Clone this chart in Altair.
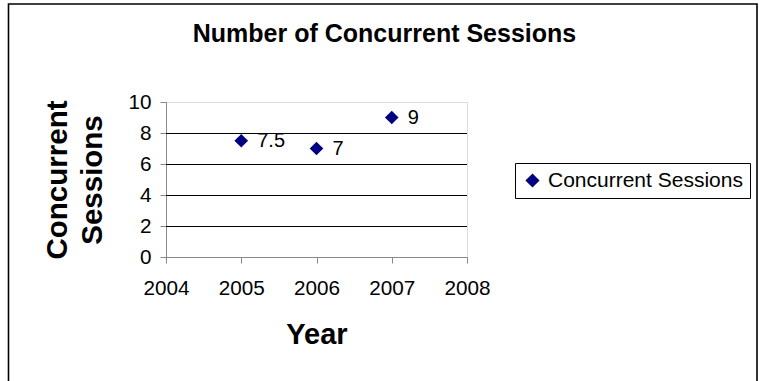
import altair as alt
import pandas as pd

# Series data
years = [2005, 2006, 2007]
sessions = [7.5, 7, 9]
series_name = ["Concurrent Sessions", "Concurrent Sessions", "Concurrent Sessions"]

# Axis ticks and interior gridlines
year_ticks = [2004, 2005, 2006, 2007, 2008]
session_ticks = [0, 2, 4, 6, 8, 10]
grid_levels = [2, 4, 6, 8]

FONT = "Liberation Sans"
NAVY = "#000080"
W, H = 301, 155
PAD = {"left": 166, "top": 102, "right": 292, "bottom": 124}

df = pd.DataFrame({"Year": years, "Sessions": sessions, "Series": series_name})
grid = pd.DataFrame({"level": grid_levels})
frame_df = pd.DataFrame({"k": [0]})

x_scale = alt.Scale(domain=[2004, 2008], nice=False, zero=False)
y_scale = alt.Scale(domain=[0, 10], nice=False)

x_axis = alt.Axis(
    values=year_ticks, format="d", title="Year",
    titleFontSize=29, titleFontWeight="bold", titleFont=FONT,
    titleBaseline="alphabetic", titleY=86.7, titleAlign="center",
    labelFontSize=20.7, labelFont=FONT, labelPadding=15, labelFlush=False,
    labelOverlap=False, tickSize=6, grid=False,
)
y_axis = alt.Axis(
    values=session_ticks, title=["Concurrent", "Sessions"],
    titleFontSize=29.5, titleFontWeight="bold", titleFont=FONT,
    titleAngle=270, titleBaseline="alphabetic", titleAlign="center",
    titleX=-99.3, titleY=77.5, titleLineHeight=35,
    labelFontSize=20.7, labelFont=FONT, labelPadding=9, labelFlush=False,
    labelOverlap=False, tickSize=6, grid=False,
)

x_enc = alt.X("Year:Q", scale=x_scale, axis=x_axis)
y_enc = alt.Y("Sessions:Q", scale=y_scale, axis=y_axis)

# Outer chart border
frame = alt.Chart(frame_df).mark_rect(
    fill="white", fillOpacity=0, stroke="black", strokeWidth=1.6
).encode(
    x=alt.value(-157.5), x2=alt.value(591), y=alt.value(-98), y2=alt.value(320)
)

# Horizontal gridlines inside the plot area
gridlines = alt.Chart(grid).mark_rule(
    color="black", strokeWidth=1, yOffset=0.5
).encode(y=alt.Y("level:Q", scale=y_scale, axis=y_axis))

points = alt.Chart(df).mark_point(
    shape="diamond", filled=True, size=185, opacity=1
).encode(
    x=x_enc,
    y=y_enc,
    color=alt.Color(
        "Series:N",
        scale=alt.Scale(range=[NAVY]),
        legend=alt.Legend(
            title=None, orient="none", legendX=349, legendY=61,
            symbolType="diamond", symbolSize=200, symbolStrokeWidth=0,
            labelFontSize=21, labelFont=FONT, labelColor="black",
            labelOffset=5, labelLimit=400, padding=7,
            strokeColor="black", fillColor="white",
        ),
    ),
)

labels = alt.Chart(df).mark_text(
    align="left", baseline="middle", dx=16, fontSize=20, font=FONT, color="black"
).encode(x=x_enc, y=y_enc, text=alt.Text("Sessions:Q", format="~g"))

chart = (
    alt.layer(frame, gridlines, points, labels)
    .properties(
        width=W,
        height=H,
        padding=PAD,
        autosize=alt.AutoSizeParams(type="none"),
        title=alt.TitleParams(
            "Number of Concurrent Sessions",
            fontSize=25, fontWeight="bold", font=FONT, color="black",
            anchor="middle", frame="group", dx=68, dy=68.4, offset=0,
            baseline="bottom",
        ),
    )
    .configure_view(stroke="#808080", strokeWidth=2)
    .configure_axis(
        domainColor="black", tickColor="black", labelColor="black",
        titleColor="black", domainWidth=1, tickWidth=1,
    )
    .configure(background="white")
)

chart.save("out.html", embed_options={"renderer": "svg", "actions": False})
